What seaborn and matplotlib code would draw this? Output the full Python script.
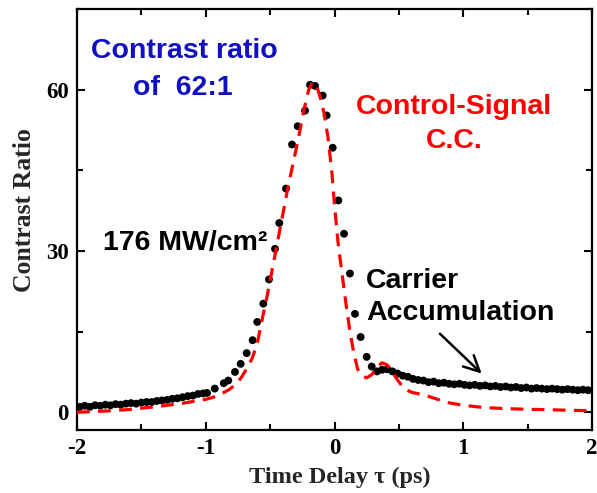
import matplotlib
matplotlib.use("Agg")
import matplotlib.pyplot as plt
import seaborn as sns
import pandas as pd
from matplotlib.ticker import MultipleLocator

# ---- data: measured contrast ratio (black dots) ----
dot_x = [-1.98, -1.94, -1.90, -1.86, -1.82, -1.78, -1.74, -1.70, -1.66, -1.62,
         -1.58, -1.54, -1.50, -1.46, -1.42, -1.38, -1.34, -1.30, -1.26, -1.22,
         -1.18, -1.14, -1.10, -1.06, -1.02, -0.99, -0.93, -0.86, -0.825, -0.773,
         -0.729, -0.682, -0.636, -0.600, -0.553, -0.509, -0.462, -0.429, -0.377, -0.330,
         -0.286, -0.229, -0.190, -0.151, -0.092, -0.061, -0.014, 0.030, 0.074, 0.120,
         0.159, 0.203, 0.250, 0.289, 0.33, 0.37, 0.41, 0.45, 0.49, 0.53,
         0.57, 0.61, 0.65, 0.69, 0.73, 0.77, 0.81, 0.85, 0.89, 0.93,
         0.97, 1.01, 1.05, 1.09, 1.13, 1.17, 1.21, 1.25, 1.29, 1.33,
         1.37, 1.41, 1.45, 1.49, 1.53, 1.57, 1.61, 1.65, 1.69, 1.73,
         1.77, 1.81, 1.85, 1.89, 1.93, 1.97]
dot_y = [1.0, 1.2, 1.0, 1.3, 1.2, 1.4, 1.3, 1.5, 1.4, 1.6,
         1.7, 1.6, 1.8, 1.9, 1.9, 2.1, 2.2, 2.3, 2.5, 2.6,
         2.8, 3.0, 3.1, 3.4, 3.5, 3.6, 4.4, 5.4, 5.9, 7.5,
         9.0, 11.0, 13.4, 16.8, 20.2, 24.7, 30.4, 35.2, 41.6, 49.8,
         53.2, 56.1, 60.9, 60.7, 58.9, 55.2, 49.2, 39.4, 33.2, 25.8,
         18.3, 14.0, 10.3, 8.5, 7.6, 7.9, 8.0, 7.6, 7.2, 6.8,
         6.6, 6.2, 6.0, 5.9, 5.6, 5.7, 5.4, 5.5, 5.3, 5.2,
         5.3, 5.1, 5.0, 5.1, 4.9, 5.0, 4.8, 4.9, 4.7, 4.8,
         4.6, 4.7, 4.5, 4.6, 4.4, 4.5, 4.4, 4.3, 4.4, 4.3,
         4.2, 4.3, 4.2, 4.1, 4.2, 4.1]

# ---- data: control-signal cross-correlation (red dashed) ----
cc_x = [-2.00, -1.80, -1.60, -1.40, -1.20, -1.10, -1.00, -0.94, -0.88, -0.82,
        -0.76, -0.72, -0.68, -0.64, -0.60, -0.56, -0.52, -0.48, -0.44, -0.40,
        -0.36, -0.32, -0.28, -0.24, -0.20, -0.17, -0.14, -0.11, -0.08, -0.05,
        -0.02, 0.00, 0.03, 0.06, 0.09, 0.12, 0.15, 0.18, 0.21, 0.25,
        0.29, 0.33, 0.37, 0.41, 0.45, 0.49, 0.54, 0.60, 0.70, 0.80,
        0.90, 1.00, 1.15, 1.30, 1.50, 1.70, 1.85, 2.00]
cc_y = [0.0, 0.2, 0.5, 1.0, 1.6, 2.0, 2.4, 2.8, 3.4, 4.2,
        5.3, 6.6, 8.2, 10.0, 12.8, 17.5, 22.0, 27.0, 32.0, 37.0,
        42.0, 46.5, 51.0, 56.0, 60.0, 61.4, 60.8, 58.5, 55.5, 51.0,
        44.5, 38.5, 31.0, 25.5, 20.0, 15.0, 11.0, 8.0, 6.8, 6.4,
        7.0, 8.4, 9.2, 8.8, 7.4, 6.0, 4.4, 3.7, 3.2, 2.4,
        1.7, 1.3, 0.9, 0.7, 0.55, 0.45, 0.35, 0.3]

x_ticks = [-2, -1, 0, 1, 2]
y_ticks = [0, 30, 60]

dots = pd.DataFrame({"t": dot_x, "cr": dot_y})
cc = pd.DataFrame({"t": cc_x, "cr": cc_y})

sns.set_theme(style="ticks")
plt.rcParams["font.family"] = ["Liberation Serif", "DejaVu Serif"]

fig = plt.figure(figsize=(5.97, 4.93), dpi=100)
ax = fig.add_axes([77 / 597, 63 / 493, 515 / 597, 421 / 493])

sns.scatterplot(data=dots, x="t", y="cr", ax=ax, color="black", s=32,
                edgecolor="none", zorder=3, legend=False)
sns.lineplot(data=cc, x="t", y="cr", ax=ax, color="#ff0000", lw=2.3,
             dashes=False, zorder=4, legend=False)
ax.lines[-1].set_dashes([4, 2.6])

ax.set_xlim(-2, 2)
ax.set_ylim(-3.3, 75)
ax.set_xticks(x_ticks)
ax.set_yticks(y_ticks)
ax.set_xticklabels([f"{v}" for v in x_ticks])
ax.set_yticklabels([f"{v}" for v in y_ticks])
ax.xaxis.set_minor_locator(MultipleLocator(0.5))
ax.yaxis.set_minor_locator(MultipleLocator(15))
ax.tick_params(which="both", direction="in", top=True, right=True, width=1.5,
               labelsize=16.5, colors="black")
ax.tick_params(which="major", length=6, pad=6)
ax.tick_params(which="minor", length=4)
for lab in ax.get_xticklabels() + ax.get_yticklabels():
    lab.set_fontweight("bold")
for sp in ax.spines.values():
    sp.set_linewidth(1.6)
    sp.set_color("black")

ax.set_xlabel("Time Delay \u03c4 (ps)", fontsize=17.5, fontweight="bold")
ax.set_ylabel("Contrast Ratio", fontsize=18.5, fontweight="bold")
ax.xaxis.set_label_coords(0.51, -0.088)
ax.yaxis.set_label_coords(-0.080, 0.523)

sans = ["Liberation Sans", "DejaVu Sans"]
fs = 20.5
ax.text(-1.169, 67.2, "Contrast ratio", color="#1010c0", fontsize=fs,
        fontweight="bold", family=sans, ha="center", va="center")
ax.text(-1.177, 60.4, "of  62:1", color="#1010c0", fontsize=fs,
        fontweight="bold", family=sans, ha="center", va="center")
ax.text(0.928, 56.8, "Control-Signal", color="#ff0000", fontsize=fs,
        fontweight="bold", family=sans, ha="center", va="center")
ax.text(0.932, 50.5, "C.C.", color="#ff0000", fontsize=fs,
        fontweight="bold", family=sans, ha="center", va="center")
ax.text(-1.798, 31.5, "176 MW/cm\u00b2", color="black", fontsize=fs,
        fontweight="bold", family=sans, ha="left", va="center")
ax.text(0.245, 24.5, "Carrier", color="black", fontsize=fs,
        fontweight="bold", family=sans, ha="left", va="center")
ax.text(0.245, 18.5, "Accumulation", color="black", fontsize=fs,
        fontweight="bold", family=sans, ha="left", va="center")
ax.annotate("", xy=(1.143, 7.2), xytext=(0.819, 14.6),
            arrowprops=dict(arrowstyle="->", lw=1.8, color="black",
                            mutation_scale=28, shrinkA=0, shrinkB=0))

fig.savefig("out.png", dpi=100)
